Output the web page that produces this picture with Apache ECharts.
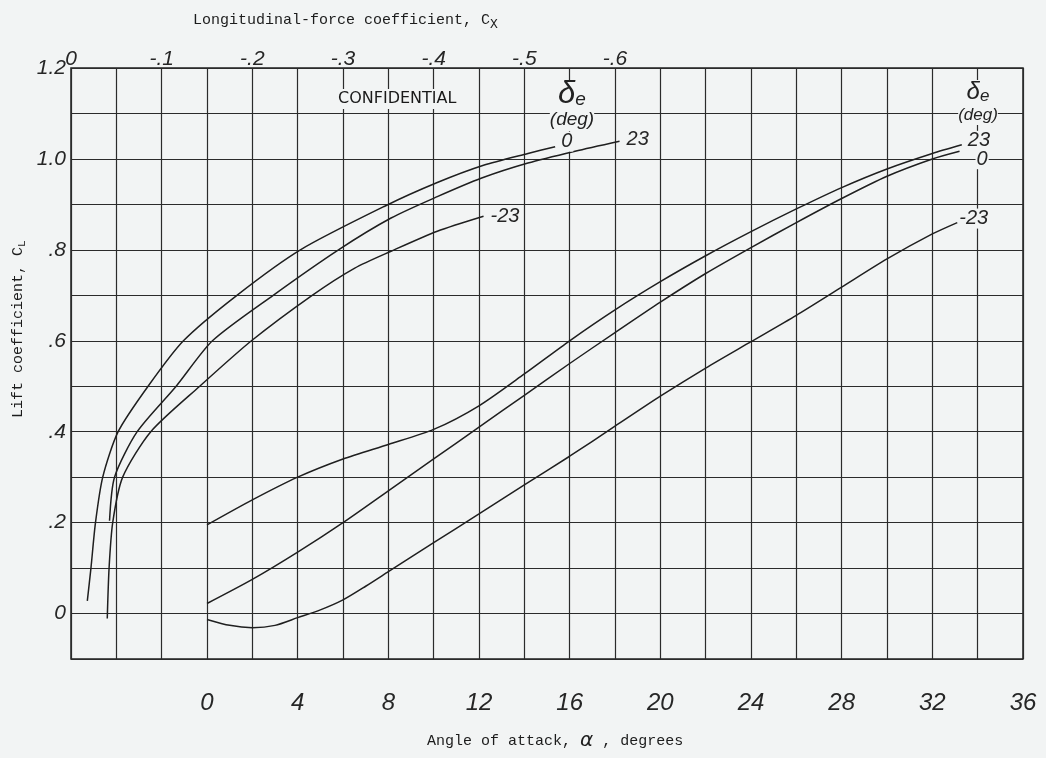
<!DOCTYPE html>
<html>
<head>
<meta charset="utf-8">
<script src="https://cdn.jsdelivr.net/npm/echarts@6/dist/echarts.min.js"></script>
<style>
  html, body { margin: 0; background: #f2f4f4; }
  #chart { width: 1046px; height: 758px; }
</style>
</head>
<body>
<div id="chart"></div>
<script>
// tick labels
const alphaTicks = [0, 4, 8, 12, 16, 20, 24, 28, 32, 36];
const clTicks = [0, 0.2, 0.4, 0.6, 0.8, 1.0, 1.2];
const cxTicks = [0, -0.1, -0.2, -0.3, -0.4, -0.5, -0.6];

// lift vs angle of attack (right family), elevator deflection 23, 0, -23
const alphaUp = [0, 2, 4, 6, 8, 10, 12, 14, 16, 18, 20, 22, 24, 26, 28, 30, 32, 33.3];
const clUp = [0.195, 0.25, 0.30, 0.34, 0.372, 0.405, 0.457, 0.527, 0.60, 0.668, 0.73, 0.787, 0.84, 0.89, 0.937, 0.978, 1.012, 1.031];
const alphaZero = [0, 2, 4, 6, 8, 10, 12, 14, 16, 18, 20, 22, 24, 26, 28, 30, 32, 33.2];
const clZero = [0.022, 0.075, 0.135, 0.20, 0.27, 0.34, 0.41, 0.48, 0.55, 0.618, 0.685, 0.748, 0.805, 0.86, 0.913, 0.962, 1.0, 1.017];
const alphaDown = [0, 1, 2, 3, 4, 5, 6, 7, 8, 10, 12, 14, 16, 18, 20, 22, 24, 26, 28, 30, 32, 33.1];
const clDown = [-0.013, -0.026, -0.031, -0.026, -0.009, 0.008, 0.03, 0.06, 0.092, 0.156, 0.219, 0.283, 0.346, 0.412, 0.478, 0.54, 0.598, 0.656, 0.718, 0.78, 0.835, 0.86];

// lift vs longitudinal-force coefficient (left family)
const cxZero = [-0.018, -0.022, -0.027, -0.035, -0.052, -0.085, -0.124, -0.183, -0.253, -0.346, -0.404, -0.455, -0.504, -0.534];
const clCxZero = [0.028, 0.10, 0.20, 0.30, 0.40, 0.50, 0.60, 0.70, 0.80, 0.896, 0.948, 0.986, 1.012, 1.027];
const cxUp = [-0.0425, -0.048, -0.073, -0.116, -0.156, -0.223, -0.295, -0.353, -0.404, -0.453, -0.504, -0.556, -0.605];
const clCxUp = [0.204, 0.30, 0.40, 0.50, 0.60, 0.70, 0.80, 0.87, 0.917, 0.958, 0.991, 1.017, 1.039];
const cxDown = [-0.040, -0.042, -0.046, -0.057, -0.088, -0.142, -0.199, -0.266, -0.313, -0.353, -0.404, -0.455];
const clCxDown = [-0.011, 0.10, 0.20, 0.30, 0.40, 0.50, 0.60, 0.70, 0.76, 0.797, 0.841, 0.874];

const ink = '#1f1f1f';
const paper = '#f2f4f4';
const hand = { fontFamily: 'Liberation Sans', fontStyle: 'italic', color: '#262626' };
const typeFont = '15px "Liberation Mono"';

const zip = (xs, ys) => xs.map((x, i) => [x, ys[i]]);

function curve(name, xs, ys, axis, labelOffset) {
  return {
    name: name,
    type: 'line',
    xAxisIndex: axis,
    data: zip(xs, ys),
    smooth: 0.25,
    showSymbol: false,
    symbol: 'none',
    lineStyle: { color: ink, width: 1.5 },
    z: 3,
    endLabel: {
      show: true,
      formatter: name,
      align: 'left',
      offset: labelOffset,
      distance: 0,
      fontSize: 20,
      backgroundColor: paper,
      padding: [0, 1],
      ...hand
    }
  };
}

const chart = echarts.init(document.getElementById('chart'));

chart.setOption({
  backgroundColor: paper,
  animation: false,
  grid: {
    left: 71, right: 23, top: 68, bottom: 99,
    show: true, borderColor: ink, borderWidth: 1.5
  },
  xAxis: [{
    type: 'value',
    min: -6, max: 36, interval: 2,
    position: 'bottom',
    axisLine: { show: false },
    axisTick: { show: false },
    splitLine: { show: true, lineStyle: { color: '#2b2b2b', width: 1.2 } },
    axisLabel: {
      customValues: alphaTicks,
      margin: 32,
      fontSize: 24,
      ...hand,
      formatter: v => String(v)
    }
  }, {
    type: 'value',
    min: -1.05, max: 0,
    inverse: true,
    position: 'top',
    axisLine: { show: false },
    axisTick: { show: false },
    splitLine: { show: false },
    axisLabel: {
      customValues: cxTicks,
      margin: -2,
      fontSize: 21,
      ...hand,
      formatter: v => v === 0 ? '0' : v.toFixed(1).replace('-0.', '-.')
    }
  }],
  yAxis: {
    type: 'value',
    min: -0.1, max: 1.2, interval: 0.1,
    axisLine: { show: false },
    axisTick: { show: false },
    splitLine: { show: true, lineStyle: { color: '#2b2b2b', width: 1.2 } },
    axisLabel: {
      customValues: clTicks,
      margin: 5,
      fontSize: 21,
      ...hand,
      formatter: v => {
        if (Math.abs(v) < 1e-9) return '0';
        const s = v.toFixed(1);
        return v < 1 ? s.replace(/^0/, '') : s;
      }
    }
  },
  graphic: [
    {
      type: 'text', x: 193, y: 9,
      style: {
        text: 'Longitudinal-force coefficient, C{s|X}',
        font: typeFont, fill: '#1c1c1c',
        rich: { s: { fontFamily: 'Liberation Mono', fontSize: 13, padding: [9, 0, 0, 0], fill: '#1c1c1c' } }
      }
    },
    {
      type: 'text', x: 427, y: 731,
      style: {
        text: 'Angle of attack, {a|α} , degrees',
        font: typeFont, fill: '#1c1c1c',
        rich: { a: { fontFamily: 'DejaVu Sans', fontStyle: 'italic', fontSize: 20, fill: '#1c1c1c' } }
      }
    },
    {
      type: 'text', x: 9, y: 418, rotation: Math.PI / 2,
      style: {
        text: 'Lift coefficient, C{s|L}',
        font: typeFont, fill: '#1c1c1c',
        rich: { s: { fontFamily: 'Liberation Mono', fontSize: 11, padding: [8, 0, 0, 0], fill: '#1c1c1c' } }
      }
    },
    {
      type: 'text', x: 336, y: 89, z: 10,
      style: {
        text: 'CONFIDENTIAL', font: '16px "DejaVu Sans"', fill: '#1a1a1a',
        backgroundColor: paper, padding: [2, 2]
      }
    },
    {
      type: 'text', x: 547, y: 80, z: 10,
      style: {
        text: '{d|δ}{e|e}\n{g|(deg)}', fill: '#222', align: 'center', x: 25,
        backgroundColor: paper,
        rich: {
          d: { ...hand, fontSize: 31, lineHeight: 27 },
          e: { ...hand, fontSize: 19, padding: [10, 0, 0, 0] },
          g: { ...hand, fontSize: 19, lineHeight: 22 }
        }
      }
    },
    {
      type: 'text', x: 957, y: 80, z: 10,
      style: {
        text: '{d|δ}{e|e}\n{g|(deg)}', fill: '#222', align: 'center', x: 21,
        backgroundColor: paper,
        rich: {
          d: { ...hand, fontSize: 24, lineHeight: 21 },
          e: { ...hand, fontSize: 17, padding: [8, 0, 0, 0] },
          g: { ...hand, fontSize: 17, lineHeight: 20 }
        }
      }
    }
  ],
  series: [
    curve('23', alphaUp, clUp, 0, [5, -4]),
    curve('0', alphaZero, clZero, 0, [16, 8]),
    curve('-23', alphaDown, clDown, 0, [1, -4]),
    curve('0', cxZero, clCxZero, 1, [5, -5]),
    curve('23', cxUp, clCxUp, 1, [6, -2]),
    curve('-23', cxDown, clCxDown, 1, [6, 0])
  ]
});
</script>
</body>
</html>
